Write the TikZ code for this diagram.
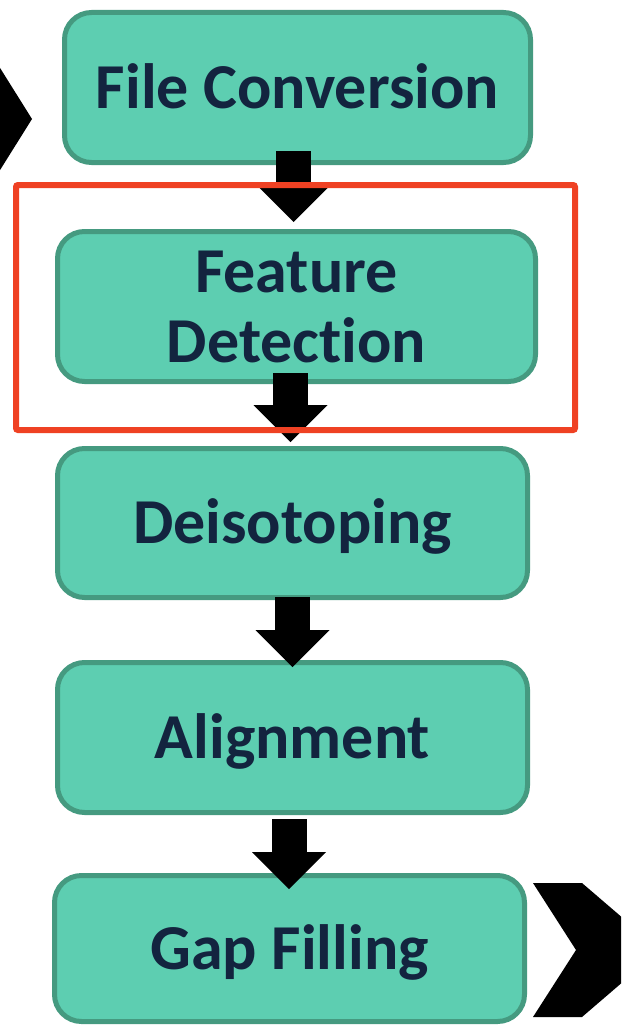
\documentclass[tikz,border=0pt]{standalone}
\usepackage{fontspec}
\setmainfont{Carlito}[Ligatures=NoCommon]
\usetikzlibrary{arrows.meta,calc}
\definecolor{boxfill}{HTML}{5DCEB1}
\definecolor{boxline}{HTML}{459A80}
\definecolor{txt}{HTML}{13243F}
\definecolor{redline}{HTML}{EF4123}
\begin{document}
\begin{tikzpicture}[x=1pt,y=-1pt,
  stepbox/.style={draw=boxline, fill=boxfill, line width=5pt, rounded corners=27pt,
    inner sep=0pt, text=txt, font=\fontsize{64}{70}\selectfont\bfseries, align=center},
  oneline/.style={text height=41pt, text depth=0pt},
  blockarrow/.style={draw=black, line width=35pt,
    -{Triangle[width=74pt,length=37pt,line width=0pt]}},
  chevron/.style={fill=black}]
\clip (0,0) rectangle (621,1025);
% chevrons
\fill[chevron] (-30,20) -- (32,119) -- (-30,218) -- (-75,218) -- (-13,119) -- (-75,20) -- cycle;
\fill[chevron] (533,883) -- (582,883) -- (660,950) -- (582,1017) -- (533,1017) -- (576,950) -- cycle;
% boxes
\node[stepbox, oneline, minimum width=466pt, minimum height=150pt] (b1) at (297.5,87.5) {File Conversion};
\node[stepbox, minimum width=478pt, minimum height=150pt] (b2) at (296.5,306.5) {Feature\\Detection};
\node[stepbox, oneline, minimum width=470pt, minimum height=149pt] (b3) at (292.5,523) {Deisotoping};
\node[stepbox, oneline, minimum width=470pt, minimum height=150pt] (b4) at (292.5,737.5) {Alignment};
\node[stepbox, oneline, minimum width=470pt, minimum height=146pt] (b5) at (289.5,948.5) {Gap Filling};
% arrows
\draw[blockarrow] ([shift={(-4,-14)}]b1.south) -- ([shift={(-3,-7)}]b2.north);
\draw[blockarrow] ([shift={(-6,-11)}]b2.south) -- ([shift={(-2,-4)}]b3.north);
\draw[blockarrow] ([shift={(0,-3)}]b3.south) -- ([shift={(0,7)}]b4.north);
\draw[blockarrow] ([shift={(-3.5,4)}]b4.south) -- ([shift={(-0.5,16)}]b5.north);
% highlight frame
\draw[redline, line width=6pt, rounded corners=2pt] (16,185) rectangle (575,430);
\end{tikzpicture}
\end{document}
